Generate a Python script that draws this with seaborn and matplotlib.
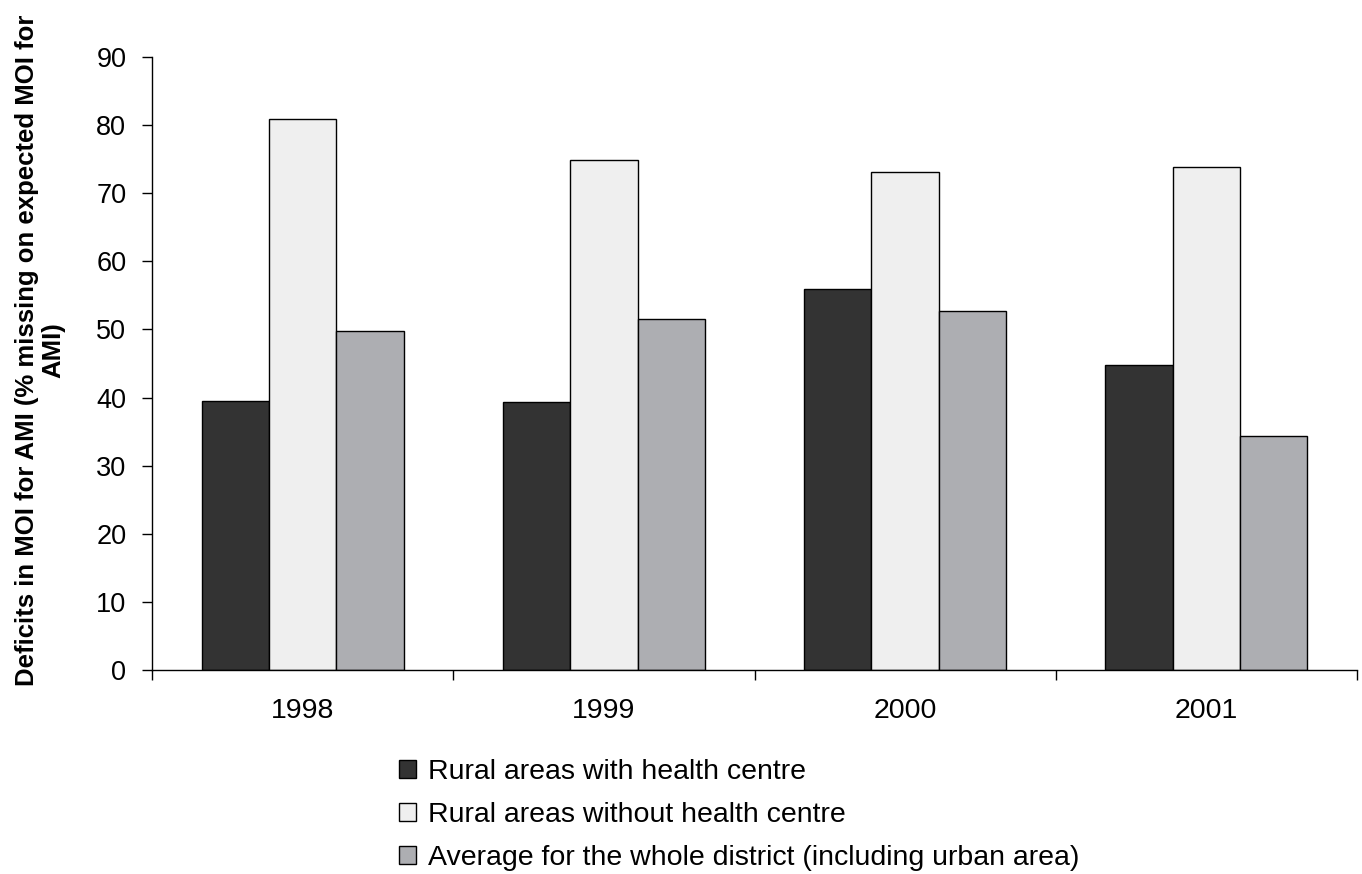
import matplotlib
matplotlib.use("Agg")
import matplotlib.pyplot as plt
import seaborn as sns
import pandas as pd

years = ["1998", "1999", "2000", "2001"]
series_names = [
    "Rural areas with health centre",
    "Rural areas without health centre",
    "Average for the whole district (including urban area)",
]
with_centre = [39.5, 39.3, 55.9, 44.8]
without_centre = [80.9, 74.9, 73.1, 73.9]
district_avg = [49.8, 51.5, 52.7, 34.4]
colors = ["#333333", "#efefef", "#adaeb2"]

rows = []
for name, vals in zip(series_names, [with_centre, without_centre, district_avg]):
    for y, v in zip(years, vals):
        rows.append({"Year": y, "Series": name, "Value": v})
df = pd.DataFrame(rows)

sns.set_theme(style="white")
plt.rcParams["font.family"] = ["Liberation Sans", "DejaVu Sans"]

W, H = 1362, 874
fig = plt.figure(figsize=(W / 100, H / 100), dpi=100)
ax = fig.add_axes([152 / W, 1 - 670 / H, (1357 - 152) / W, (670 - 57) / H])

sns.barplot(data=df, x="Year", y="Value", hue="Series", palette=colors,
            width=0.67, edgecolor="black", linewidth=1.0, saturation=1,
            gap=0, ax=ax, legend=True)

ax.set_ylim(0, 90)
ax.set_xlim(-0.5, 3.5)
ax.set_yticks(range(0, 91, 10))
# category separators as major ticks, year labels as minor ticks at bar groups
ax.set_xticks([-0.5, 0.5, 1.5, 2.5, 3.5], minor=False)
ax.set_xticklabels([])
ax.set_xticks(range(4), minor=True)
ax.set_xticklabels(years, minor=True)
ax.tick_params(axis="x", which="major", bottom=True, direction="out",
               length=7.5, width=1, color="black")
ax.tick_params(axis="x", which="minor", bottom=True, length=0,
               labelsize=20.5, pad=20, labelcolor="black")
ax.tick_params(axis="y", left=True, direction="out", length=7.5, width=1,
               color="black", labelsize=19.5, pad=11, labelcolor="black")
ax.set_xlabel("")
ax.set_ylabel("")
for s in ["top", "right"]:
    ax.spines[s].set_visible(False)
for s in ["left", "bottom"]:
    ax.spines[s].set_color("black")
    ax.spines[s].set_linewidth(1)

fig.text(40 / W, 1 - 350 / H,
         "Deficits in MOI for AMI (% missing on expected MOI for\nAMI)",
         rotation=90, ha="center", va="center", multialignment="center",
         fontsize=18.5, fontweight="bold", linespacing=1.1, color="black")

handles, labels = ax.get_legend_handles_labels()
ax.get_legend().remove()
fig.legend(handles, labels, loc="upper left",
           bbox_to_anchor=(399 / W, 1 - 759 / H),
           frameon=False, fontsize=20.5, handlelength=0.6, handleheight=0.6,
           handletextpad=0.42, labelspacing=0.59, borderaxespad=0, borderpad=0,
           labelcolor="black")

fig.savefig("out.png", dpi=100)
